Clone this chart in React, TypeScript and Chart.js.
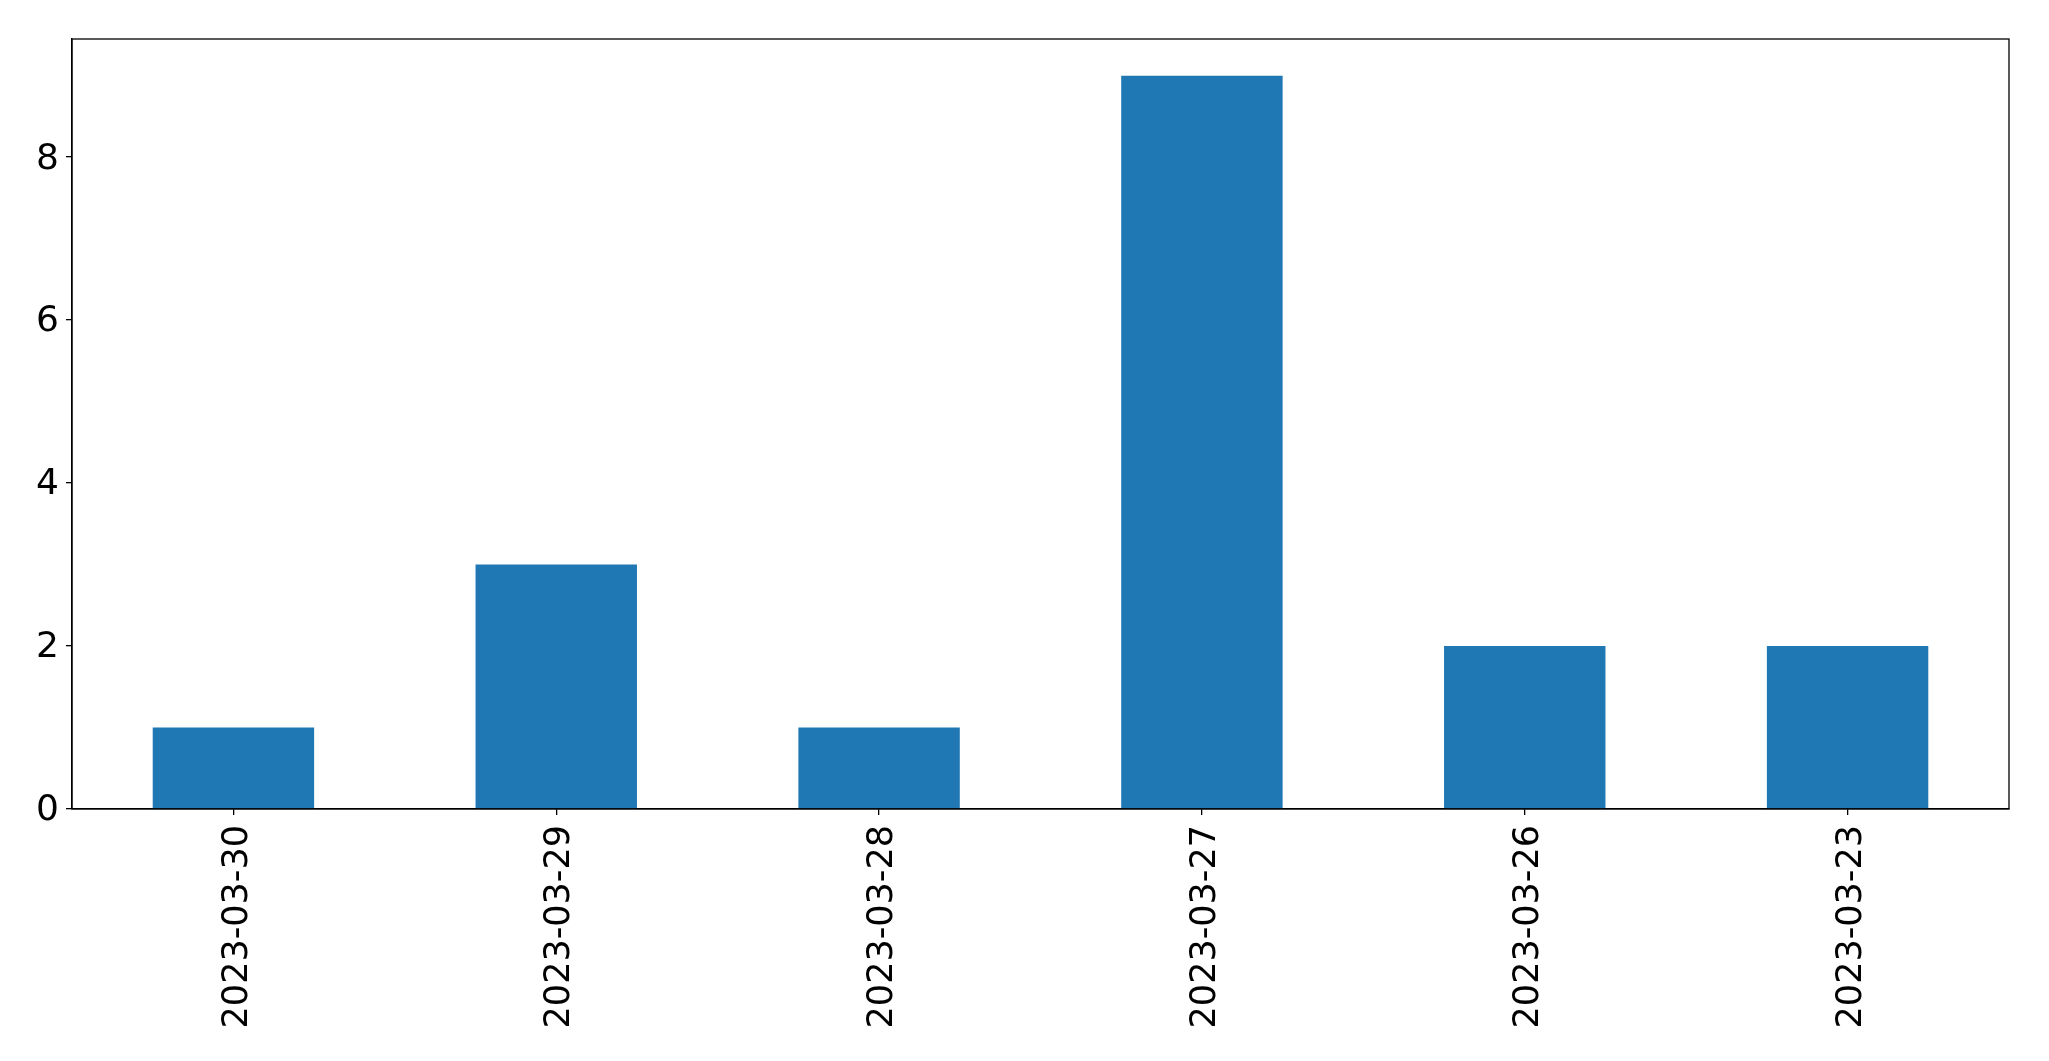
import React, { useEffect, useRef } from "react";
import { Chart, registerables } from "chart.js";

Chart.register(...registerables);

const categories = ["2023-03-30", "2023-03-29", "2023-03-28", "2023-03-27", "2023-03-26", "2023-03-23"];
const counts = [1, 3, 1, 9, 2, 2];
const yTicks = [0, 2, 4, 6, 8];
const yMax = 9.45;

const W = 2049;
const H = 1061;
const FONT = "'DejaVu Sans', sans-serif";

const framePlugin = {
  id: "frame",
  afterDraw(chart: any) {
    const { ctx, chartArea } = chart;
    ctx.save();
    ctx.strokeStyle = "#000";
    ctx.lineWidth = 1.3;
    ctx.strokeRect(chartArea.left, chartArea.top, chartArea.right - chartArea.left, chartArea.bottom - chartArea.top);
    ctx.restore();
  },
};

export default function App() {
  const ref = useRef<HTMLCanvasElement | null>(null);
  useEffect(() => {
    document.body.style.margin = "0";
    const chart = new Chart(ref.current as HTMLCanvasElement, {
      type: "bar",
      data: {
        labels: categories,
        datasets: [
          {
            data: counts,
            backgroundColor: "#1f77b4",
            borderWidth: 0,
            categoryPercentage: 1,
            barPercentage: 0.5,
          },
        ],
      },
      plugins: [framePlugin],
      options: {
        responsive: false,
        animation: false,
        devicePixelRatio: 1,
        layout: { padding: { top: 39, right: 40, left: 0, bottom: 0 } },
        plugins: { legend: { display: false }, tooltip: { enabled: false } },
        scales: {
          x: {
            offset: true,
            grid: { display: true, offset: false, drawOnChartArea: false, drawTicks: true, tickLength: 6, color: "#000", lineWidth: 1.3 },
            border: { display: true, color: "#000", width: 1.3 },
            ticks: {
              color: "#000",
              font: { family: FONT, size: 35 },
              minRotation: 90,
              maxRotation: 90,
              autoSkip: false,
              padding: 10,
              labelOffset: 4,
            },
            afterFit(scale: any) {
              scale.height = H - 809;
            },
          },
          y: {
            min: 0,
            max: yMax,
            grid: { display: true, drawOnChartArea: false, drawTicks: true, tickLength: 6, color: "#000", lineWidth: 1.3 },
            border: { display: true, color: "#000", width: 1.3 },
            ticks: {
              color: "#000",
              font: { family: FONT, size: 36 },
              padding: 7,
              labelOffset: 2,
            },
            afterBuildTicks(scale: any) {
              scale.ticks = yTicks.map((v) => ({ value: v }));
            },
            afterFit(scale: any) {
              scale.width = 72;
            },
          },
        },
      },
    });
    return () => chart.destroy();
  }, []);
  return (
    <div style={{ position: "absolute", left: 0, top: 0, width: W, height: H, background: "#fff" }}>
      <canvas ref={ref} width={W} height={H} style={{ width: W, height: H, display: "block" }} />
    </div>
  );
}
